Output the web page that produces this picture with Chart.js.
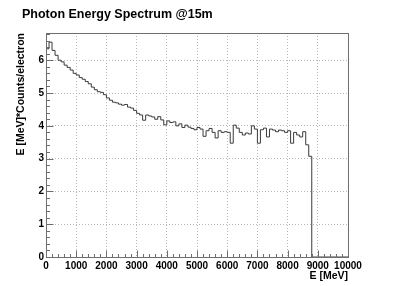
<!DOCTYPE html>
<html>
<head>
<meta charset="utf-8">
<script src="https://cdn.jsdelivr.net/npm/chart.js@4/dist/chart.umd.min.js"></script>
<style>
  html, body { margin: 0; padding: 0; background: #fff; }
</style>
</head>
<body>
<canvas id="spectrum" width="402" height="286"></canvas>
<script>
// histogram: 100 MeV bins from 0 to 10000 MeV
var binWidth = 100;
var counts = [
  6.35, 6.55, 6.3, 6.15, 6.0, 5.95, 5.85, 5.78,
  5.7, 5.6, 5.55, 5.47, 5.42, 5.35, 5.28, 5.18,
  5.1, 5.04, 5.02, 4.95, 4.85, 4.78, 4.72, 4.7,
  4.66, 4.63, 4.65, 4.57, 4.54, 4.47, 4.38, 4.33,
  4.17, 4.33, 4.3, 4.27, 4.2, 4.28, 4.18, 4.03,
  4.15, 4.1, 4.12, 4.0, 4.06, 3.95, 4.02, 3.96,
  3.92, 3.88, 3.95, 3.9, 3.68, 3.85, 3.92, 3.8,
  3.63, 3.85, 3.8, 3.82, 3.8, 3.47, 4.02, 3.93,
  3.8, 3.72, 3.78, 3.75, 4.0, 3.9, 3.47, 3.88,
  3.93, 3.66, 3.9, 3.87, 3.82, 3.87, 3.85, 3.8,
  3.85, 3.47, 3.8, 3.72, 3.66, 3.82, 3.42, 3.07,
  0, 0, 0, 0, 0, 0, 0, 0, 0, 0, 0, 0
];
var xTicks = [0, 1000, 2000, 3000, 4000, 5000, 6000, 7000, 8000, 9000, 10000];
var yTicks = [0, 1, 2, 3, 4, 5, 6];

var points = [];
for (var i = 0; i < counts.length; i++) {
  points.push({x: i * binWidth, y: counts[i]});
}
points.push({x: counts.length * binWidth, y: counts[counts.length - 1]});

var FONT = '"Liberation Sans", Arial, Helvetica, sans-serif';

// ROOT style frame, inner ticks and titles
var rootFrame = {
  id: 'rootFrame',
  afterDraw: function(chart) {
    var ctx = chart.ctx;
    var a = chart.chartArea;
    var xs = chart.scales.x, ys = chart.scales.y;
    var L = Math.round(a.left) + 0.5, R = Math.round(a.right) + 0.5;
    var T = Math.round(a.top) + 0.5, B = Math.round(a.bottom) + 0.5;
    ctx.save();
    ctx.strokeStyle = '#6e6e6e';
    ctx.lineWidth = 1;
    ctx.strokeRect(L, T, R - L, B - T);

    ctx.beginPath();
    for (var v = 0; v <= 10000; v += 200) {
      var px = Math.round(xs.getPixelForValue(v)) + 0.5;
      var len = (v % 1000 === 0) ? 7 : 3.5;
      ctx.moveTo(px, B);
      ctx.lineTo(px, B - len);
    }
    for (var k = 0; k <= 34; k++) {
      var py = Math.round(ys.getPixelForValue(k * 0.2)) + 0.5;
      var ylen = (k % 5 === 0) ? 7 : 3.5;
      ctx.moveTo(L, py);
      ctx.lineTo(L + ylen, py);
    }
    ctx.stroke();

    ctx.fillStyle = '#000';
    ctx.font = 'bold 12.5px ' + FONT;
    ctx.textAlign = 'left';
    ctx.textBaseline = 'alphabetic';
    ctx.fillText('Photon Energy Spectrum @15m', 22, 18);

    ctx.font = 'bold 10.5px ' + FONT;
    ctx.textAlign = 'right';
    ctx.fillText('E [MeV]', R - 0.5, 279);

    ctx.translate(24, T - 0.5);
    ctx.rotate(-Math.PI / 2);
    ctx.fillText('E [MeV]*Counts/electron', 0, 0);
    ctx.restore();
  }
};

new Chart('spectrum', {
  type: 'line',
  data: {
    datasets: [{
      data: points,
      stepped: 'before',
      borderColor: '#3a3a3a',
      borderWidth: 1,
      pointRadius: 0,
      fill: false
    }]
  },
  options: {
    responsive: false,
    devicePixelRatio: 1,
    animation: false,
    layout: { padding: { top: 33, right: 54, left: 0, bottom: 0 } },
    plugins: {
      legend: { display: false },
      tooltip: { enabled: false }
    },
    scales: {
      x: {
        type: 'linear',
        min: 0,
        max: 10000,
        afterBuildTicks: function(s) {
          s.ticks = xTicks.map(function(v) { return {value: v}; });
        },
        afterFit: function(s) { s.height = 29; },
        grid: { color: '#b8b8b8', drawTicks: false },
        border: { display: false, dash: [1, 2] },
        ticks: {
          autoSkip: false,
          maxRotation: 0,
          padding: 3,
          color: '#000',
          font: { family: FONT, size: 10, weight: 'bold' },
          callback: function(v) { return String(v); }
        }
      },
      y: {
        type: 'linear',
        min: 0,
        max: 6.83,
        afterBuildTicks: function(s) {
          s.ticks = yTicks.map(function(v) { return {value: v}; });
        },
        afterFit: function(s) { s.width = 46; },
        grid: { color: '#b8b8b8', drawTicks: false },
        border: { display: false, dash: [1, 2] },
        ticks: {
          padding: 2,
          color: '#000',
          font: { family: FONT, size: 10, weight: 'bold' },
          callback: function(v) { return String(v); }
        }
      }
    }
  },
  plugins: [rootFrame]
});
</script>
</body>
</html>
